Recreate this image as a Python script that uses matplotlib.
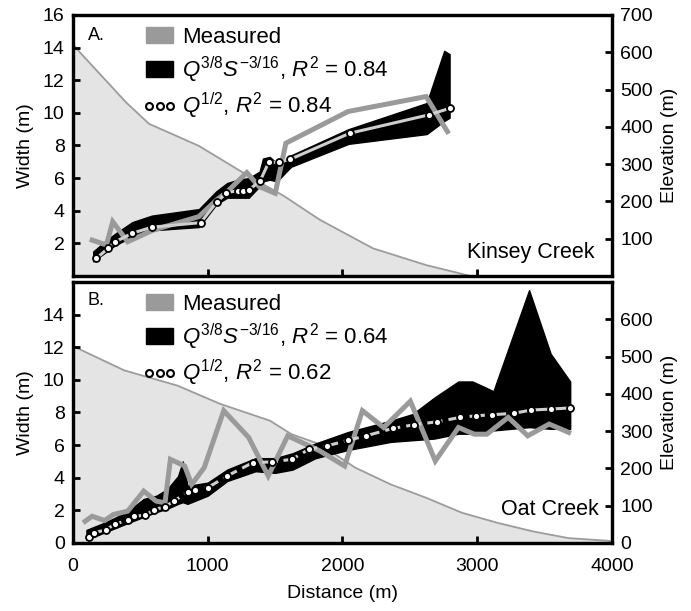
import numpy as np
import matplotlib
matplotlib.use('Agg')
import matplotlib.pyplot as plt
from matplotlib.patches import Patch
from matplotlib.lines import Line2D
from matplotlib.legend_handler import HandlerLine2D

plt.rcParams['font.family'] = ['Liberation Sans', 'DejaVu Sans']
plt.rcParams['mathtext.fontset'] = 'custom'
plt.rcParams['mathtext.rm'] = 'Liberation Sans'
plt.rcParams['mathtext.it'] = 'Liberation Sans:italic'

# ---- Panel A: Kinsey Creek ----
a_elev_d = [0, 393, 565, 934, 1304, 1568, 1831, 2227, 2623, 2950]
a_elev = [620, 466, 408, 349, 268, 214, 151, 74, 29, 0]

a_meas_d = [142, 248, 295, 406, 591, 934, 1066, 1145, 1290, 1382, 1501, 1580, 2041, 2621, 2779]
a_meas_w = [2.2, 1.9, 3.33, 2.1, 2.8, 3.64, 4.66, 5.17, 6.34, 5.48, 5.07, 8.14, 10.08, 11.0, 8.85]

a_band_d = [150, 250, 315, 440, 585, 935, 1065, 1145, 1225, 1305, 1385, 1410, 1460, 1515, 1595, 1620, 2045, 2625, 2755, 2795]
a_band_lo = [0.9, 1.5, 1.9, 2.4, 2.8, 3.0, 4.4, 4.8, 4.8, 4.8, 5.5, 5.8, 5.9, 5.8, 6.5, 6.7, 8.1, 8.7, 9.5, 9.7]
a_band_hi = [1.5, 2.2, 2.6, 3.3, 3.7, 4.1, 5.2, 5.7, 5.9, 6.0, 6.4, 7.2, 7.3, 6.9, 7.2, 7.4, 9.0, 10.6, 13.8, 13.6]

a_q_d = [174, 261, 314, 440, 585, 947, 1071, 1139, 1224, 1263, 1308, 1390, 1453, 1527, 1614, 2054, 2642, 2801]
a_q_w = [1.08, 1.70, 2.1, 2.62, 2.99, 3.27, 4.56, 5.11, 5.23, 5.23, 5.28, 5.85, 6.97, 6.97, 7.16, 8.75, 9.88, 10.29]

# ---- Panel B: Oat Creek ----
b_elev_d = [0, 380, 776, 1093, 1462, 1620, 1831, 2095, 2359, 2623, 2887, 3151, 3415, 3679, 3969, 4000]
b_elev = [528, 463, 422, 373, 328, 292, 265, 202, 157, 121, 81, 54, 31, 13, 6, 4]

b_meas_d = [90, 142, 235, 301, 406, 525, 617, 683, 723, 829, 881, 974, 1119, 1304, 1449, 1594,
            1831, 2016, 2148, 2306, 2504, 2689, 2861, 2979, 3072, 3230, 3375, 3534, 3679]
b_meas_w = [1.33, 1.64, 1.38, 1.75, 1.95, 3.18, 2.57, 2.46, 5.13, 4.72, 3.59, 4.62, 8.11, 6.47, 4.11, 6.57,
            5.65, 4.72, 8.11, 7.08, 8.69, 5.03, 7.08, 6.67, 6.67, 7.70, 6.57, 7.29, 6.78]

b_band_d = [100, 250, 400, 525, 620, 700, 780, 815, 850, 1000, 1145, 1355, 1500, 1630, 1800, 2040,
            2360, 2520, 2680, 2860, 2965, 3070, 3120, 3385, 3545, 3690]
b_band_lo = [0.2, 0.7, 1.2, 1.6, 1.9, 2.1, 2.4, 2.5, 2.4, 2.9, 3.8, 4.4, 4.3, 4.5, 5.2, 5.7,
             6.2, 6.3, 6.4, 6.7, 6.7, 6.8, 6.9, 7.1, 7.0, 7.0]
b_band_hi = [0.8, 1.3, 1.9, 2.7, 2.9, 3.3, 4.1, 5.0, 3.5, 3.7, 4.5, 5.2, 5.2, 5.5, 6.1, 6.8,
             7.5, 7.9, 8.9, 9.9, 9.9, 9.5, 9.3, 15.5, 11.6, 9.9]

b_q_d = [116, 156, 248, 314, 406, 454, 538, 604, 683, 749, 855, 908, 1000, 1145, 1335, 1475, 1626,
         1752, 1884, 2043, 2175, 2372, 2531, 2702, 2874, 2993, 3111, 3270, 3402, 3547, 3692]
b_q_w = [0.35, 0.62, 0.82, 1.17, 1.38, 1.64, 1.70, 2.05, 2.22, 2.57, 3.14, 3.22, 3.39, 4.11, 4.93, 4.97, 5.13,
         5.75, 5.95, 6.30, 6.57, 7.02, 7.25, 7.43, 7.70, 7.80, 7.86, 7.95, 8.15, 8.21, 8.28]

a_labels = ['Measured', r'$Q^{3/8}S^{-3/16}$, $R^2$ = 0.84', r'$Q^{1/2}$, $R^2$ = 0.84']
b_labels = ['Measured', r'$Q^{3/8}S^{-3/16}$, $R^2$ = 0.64', r'$Q^{1/2}$, $R^2$ = 0.62']

MEAS_C = '#9a9a9a'
ELEV_FILL = '#e4e4e4'
ELEV_LINE = '#9c9c9c'
QLINE_C = '#cfcfcf'

fig = plt.figure(figsize=(6.91, 6.11), dpi=100)
ax_a = fig.add_axes([0.1056, 0.5483, 0.780, 0.4272])
ax_b = fig.add_axes([0.1056, 0.1113, 0.780, 0.4272])


def draw_panel(ax, elev_d, elev, meas_d, meas_w, band_d, lo, hi, q_d, q_w, qstyle):
    ax2 = ax.twinx()
    ax.set_zorder(ax2.get_zorder() + 1)
    ax.patch.set_visible(False)

    ax2.fill_between(elev_d, 0, elev, color=ELEV_FILL, lw=0)
    ax2.plot(elev_d, elev, color=ELEV_LINE, lw=1.3)
    ax2.set_ylim(0, 700)

    ax.fill_between(band_d, lo, hi, color='black', lw=1.0, edgecolor='black')
    ax.plot(meas_d, meas_w, color=MEAS_C, lw=3.6, solid_joinstyle='miter')
    ax.plot(q_d, q_w, color=QLINE_C, lw=2.2, ls=qstyle,
            marker='o', ms=5, mfc='white', mec='black', mew=1.3)

    ax.set_xlim(0, 4000)
    ax.set_ylim(0, 16)
    for a in (ax, ax2):
        for s in a.spines.values():
            s.set_linewidth(2.3)
        a.tick_params(direction='in', length=5, width=2, labelsize=14, pad=6)
    return ax2


a2 = draw_panel(ax_a, a_elev_d, a_elev, a_meas_d, a_meas_w, a_band_d, a_band_lo, a_band_hi,
                a_q_d, a_q_w, '-')
b2 = draw_panel(ax_b, b_elev_d, b_elev, b_meas_d, b_meas_w, b_band_d, b_band_lo, b_band_hi,
                b_q_d, b_q_w, (0, (5, 2)))

ax_a.set_yticks([2, 4, 6, 8, 10, 12, 14, 16])
a2.set_yticks([100, 200, 300, 400, 500, 600, 700])
ax_a.set_xticks([1000, 2000, 3000])
ax_a.set_xticklabels([])

ax_b.set_yticks([0, 2, 4, 6, 8, 10, 12, 14])
b2.set_yticks([0, 100, 200, 300, 400, 500, 600])
ax_b.set_xticks([0, 1000, 2000, 3000, 4000])
ax_b.tick_params(axis='x', pad=11)

for ax, ax2 in ((ax_a, a2), (ax_b, b2)):
    ax.set_ylabel('Width (m)', fontsize=14, labelpad=6)
    ax2.set_ylabel('Elevation (m)', fontsize=14, labelpad=6)
ax_b.set_xlabel('Distance (m)', fontsize=14, labelpad=7)

ax_a.text(0.027, 0.955, 'A.', transform=ax_a.transAxes, fontsize=13, va='top')
ax_b.text(0.027, 0.96, 'B.', transform=ax_b.transAxes, fontsize=13, va='top')
ax_a.text(0.968, 0.069, 'Kinsey Creek', transform=ax_a.transAxes, fontsize=15.5,
          ha='right', va='baseline')
ax_b.text(0.975, 0.107, 'Oat Creek', transform=ax_b.transAxes, fontsize=15.5,
          ha='right', va='baseline')

for ax, labels in ((ax_a, a_labels), (ax_b, b_labels)):
    handles = [Patch(color=MEAS_C), Patch(color='black'),
               Line2D([], [], ls='none', marker='o', ms=5, mfc='white', mec='black', mew=1.5)]
    ax.legend(handles, labels, loc='upper left', bbox_to_anchor=(0.136, 0.955),
              frameon=False, fontsize=16, handlelength=1.2, handleheight=0.7,
              handletextpad=0.4, labelspacing=0.3, borderpad=0, borderaxespad=0,
              numpoints=3, handler_map={Line2D: HandlerLine2D(marker_pad=0.12)})

fig.savefig('out.png', dpi=100)
